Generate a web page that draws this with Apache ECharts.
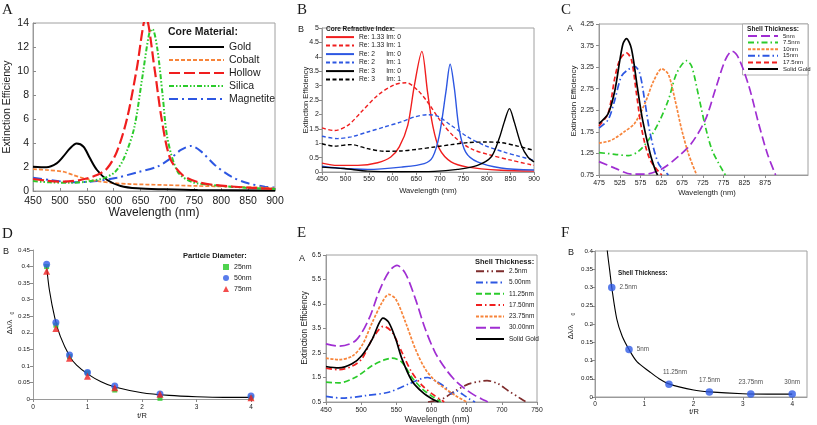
<!DOCTYPE html>
<html><head><meta charset="utf-8">
<script src="https://cdn.jsdelivr.net/npm/echarts@6/dist/echarts.min.js"></script>
<style>html,body{margin:0;padding:0;background:#fff}#c{width:817px;height:425px}</style>
</head><body><div id="c"></div><script>
// ---------- Panel A: core material (wavelength nm, extinction efficiency) ----------
const aGold = [[450,2.03],[475,1.97],[494,2.3],[506,2.86],[519,3.56],[531,3.95],[544,3.69],[556,2.72],[569,1.75],[588,0.92],[613,0.42],[644,0.22],[694,0.14],[756,0.08],[900,0.05]];
const aCobalt = [[450,1.83],[475,1.75],[506,1.61],[525,1.33],[544,1.06],[569,0.83],[600,0.66],[631,0.58],[694,0.5],[756,0.42],[819,0.36],[881,0.28],[900,0.22]];
const aHollow = [[450,1.0],[475,0.86],[506,0.78],[538,0.92],[569,1.33],[588,1.89],[606,3.28],[625,6.06],[643,10.2],[660,14.5],[676,10.2],[689,6.06],[705,2.72],[728,1.33],[756,0.75],[788,0.5],[850,0.28],[900,0.17]];
const aSilica = [[450,0.83],[481,0.72],[519,0.69],[550,0.78],[584,1.11],[603,1.61],[619,2.72],[638,5.22],[653,9.39],[666,13.1],[672,13.5],[681,11.9],[691,8.0],[700,4.39],[719,1.61],[744,0.78],[781,0.5],[844,0.28],[900,0.17]];
const aMagnetite = [[450,1.11],[481,0.92],[525,0.72],[569,0.83],[606,1.11],[644,1.56],[681,2.03],[706,2.72],[725,3.42],[744,3.75],[763,3.28],[788,2.17],[819,1.19],[850,0.64],[881,0.36],[900,0.28]];

// ---------- Panel B: core refractive index ----------
const bRe133Im0 = [[450,0.31],[483,0.23],[526,0.23],[568,0.32],[596,0.52],[614,0.87],[632,1.62],[646,3.0],[662,4.19],[674,2.78],[685,1.62],[699,0.81],[724,0.35],[759,0.17],[830,0.06],[900,0.03]];
const bRe133Im1 = [[450,1.53],[476,1.44],[505,1.62],[533,2.08],[568,2.66],[604,3.03],[629,3.1],[653,2.84],[674,2.43],[703,1.74],[731,1.22],[766,0.81],[809,0.58],[851,0.41],[900,0.23]];
const bRe2Im0 = [[450,0.2],[483,0.14],[547,0.09],[618,0.17],[667,0.29],[685,0.52],[699,1.27],[713,2.78],[722,3.74],[731,2.9],[741,1.5],[755,0.69],[780,0.35],[830,0.14],[900,0.07]];
const bRe2Im1 = [[450,1.24],[483,1.16],[512,1.22],[547,1.39],[582,1.56],[618,1.74],[646,1.91],[674,1.99],[695,1.94],[724,1.62],[759,1.22],[794,0.93],[837,0.69],[865,0.56],[900,0.41]];
const bRe3Im0 = [[450,0.17],[497,0.12],[547,0.03],[618,0.01],[689,0.02],[738,0.09],[780,0.23],[809,0.52],[826,1.16],[837,1.74],[848,2.2],[858,1.74],[873,0.93],[887,0.52],[900,0.35]];
const bRe3Im1 = [[450,0.98],[476,0.9],[512,0.95],[547,0.81],[582,0.72],[618,0.73],[653,0.79],[689,0.87],[724,0.95],[759,1.02],[794,1.04],[830,1.02],[865,0.9],[900,0.75]];

// ---------- Panel C: shell thickness ----------
const c5nm = [[475,1.06],[513,0.91],[553,0.77],[586,0.77],[626,0.89],[666,1.18],[698,1.49],[731,2.03],[755,2.73],[779,3.42],[795,3.62],[811,3.46],[836,2.8],[859,1.95],[880,1.25],[900,0.75]];
const c7_5nm = [[475,1.27],[513,1.23],[545,1.2],[569,1.29],[594,1.56],[618,1.95],[642,2.49],[662,3.11],[686,3.4],[698,3.27],[715,2.57],[731,1.87],[747,1.33],[763,1.02],[779,0.75]];
const c10nm = [[475,1.49],[497,1.53],[513,1.6],[537,1.76],[561,1.95],[586,2.42],[606,2.92],[626,3.21],[642,3.08],[658,2.49],[674,1.8],[690,1.25],[710,0.75]];
const c15nm = [[475,1.84],[497,2.03],[513,2.49],[529,3.04],[545,3.19],[561,3.27],[573,3.11],[586,2.41],[598,1.72],[618,1.02],[642,0.75]];
const c17_5nm = [[475,1.89],[497,2.18],[513,3.0],[525,3.42],[541,3.58],[553,3.42],[565,2.65],[578,1.8],[598,1.1],[626,0.75]];
const cGold = [[475,1.94],[497,2.17],[513,2.7],[525,3.4],[533,3.8],[541,3.91],[553,3.68],[567,2.8],[580,2.02],[598,1.25],[611,0.85],[616,0.75]];
const cXTicks = [475,525,575,625,675,725,775,825,875];
const cYTicks = [0.75,1.25,1.75,2.25,2.75,3.25,3.75,4.25];

// ---------- Panel D: particle diameter (t/R vs shift) ----------
const dTR = [0.25,0.42,0.67,1.0,1.5,2.33,4.0];
const d25nm = [0.40,0.223,0.128,0.079,0.027,0.002,0.004];
const d50nm = [0.407,0.231,0.133,0.08,0.039,0.015,0.009];
const d75nm = [0.386,0.213,0.123,0.069,0.034,0.014,0.004];
const dFit = [[0.25,0.40],[0.3,0.33],[0.4,0.245],[0.5,0.19],[0.67,0.13],[0.8,0.102],[1.0,0.076],[1.25,0.052],[1.5,0.036],[2.0,0.019],[2.5,0.011],[3.0,0.007],[3.5,0.005],[4.0,0.005]];

// ---------- Panel E: shell thickness ----------
const e2_5nm = [[595,0.5],[615,0.62],[634,0.96],[653,1.24],[667,1.33],[679,1.37],[695,1.24],[709,0.96],[724,0.69],[733,0.53],[736,0.5]];
const e5nm = [[450,0.73],[473,0.66],[506,0.76],[539,0.9],[568,1.24],[587,1.47],[594,1.5],[605,1.37],[620,1.1],[629,0.83],[636,0.95],[645,0.8],[655,0.6],[662,0.5]];
const e11_25nm = [[450,1.31],[468,1.28],[492,1.51],[516,1.99],[534,2.23],[544,2.29],[558,2.12],[572,1.51],[587,1.03],[601,0.73],[610,0.56],[613,0.5]];
const e17_5nm = [[450,1.88],[468,1.82],[487,1.96],[501,2.26],[516,3.08],[532,3.59],[544,3.35],[558,2.53],[572,1.71],[587,1.17],[601,0.83],[615,0.56],[618,0.5]];
const e23_75nm = [[450,2.29],[468,2.23],[487,2.37],[501,2.8],[516,3.76],[530,4.58],[539,4.89],[549,4.71],[563,3.76],[577,2.67],[591,1.85],[605,1.37],[620,1.03],[634,0.76],[648,0.53],[650,0.5]];
const e30nm = [[450,2.87],[468,2.78],[492,3.0],[511,3.89],[525,4.98],[539,5.8],[551,6.08],[563,5.74],[577,4.72],[591,3.49],[605,2.53],[620,1.85],[634,1.37],[648,1.03],[662,0.76],[676,0.56],[680,0.5]];
const eGold = [[450,1.95],[468,1.89],[487,2.06],[501,2.4],[516,3.08],[525,3.69],[531,3.92],[539,3.76],[549,3.08],[558,2.26],[572,1.37],[587,0.9],[601,0.62],[610,0.5]];
const eYTicks = [0.5,1.5,2.5,3.5,4.5,5.5,6.5];

// ---------- Panel F: shell thickness (t/R vs shift) ----------
const fTR = [0.34,0.69,1.5,2.32,3.16,4.0];
const fShift = [0.30,0.13,0.035,0.014,0.008,0.008];
const fLabels = ['2.5nm','5nm','11.25nm','17.5nm','23.75nm','30nm'];
const fFit = [[0.24,0.43],[0.25,0.40],[0.3,0.345],[0.34,0.30],[0.44,0.215],[0.55,0.167],[0.69,0.13],[0.85,0.097],[1.1,0.07],[1.3,0.05],[1.5,0.036],[2.0,0.019],[2.32,0.014],[3.0,0.009],[3.5,0.008],[4.0,0.008]];
const fXTicks = [0,1,2,3,4];

// ---------- styling ----------
const FONT = "'Liberation Sans', Arial, Helvetica, sans-serif";
const SERIF = "'Liberation Serif', 'Times New Roman', serif";
const TXT = '#1a1a1a';
const C_BLACK='#000000', C_ORANGE='#f7843a', C_RED='#f01e1e', C_GREEN='#2bcb2b', C_BLUE='#2d57e2', C_PURPLE='#a02ed2', C_BROWN='#7e2c2c';

const grids = [
  {left:33, top:23, width:242, height:168, show:true},
  {left:322, top:28, width:212, height:144, show:true},
  {left:599, top:24, width:209, height:151, show:true},
  {left:33, top:250, width:218, height:149, show:false},
  {left:326, top:255, width:211, height:147, show:true},
  {left:595, top:251, width:212, height:146, show:true}
].map(g => Object.assign(g, {borderColor:'#a0a0a0', borderWidth:1, backgroundColor:'transparent', containLabel:false, outerBoundsMode:'none'}));

function mkAxis(gi, min, max, o) {
  const ax = {type:'value', gridIndex:gi, min:min, max:max, scale:false,
    axisLine:{show:true, onZero:false, lineStyle:{color:'#9a9a9a', width:1}},
    axisTick:{show:true, inside:!!o.inside, length:3, lineStyle:{color:'#8a8a8a', width:1}},
    splitLine:{show:false},
    axisLabel:{fontSize:o.fs, fontFamily:FONT, color:TXT, margin:o.margin, hideOverlap:false, showMinLabel:true, showMaxLabel:true}};
  if (o.interval != null) ax.interval = o.interval;
  if (o.ticks) { ax.axisLabel.customValues = o.ticks; ax.axisTick.customValues = o.ticks; }
  return ax;
}

const xAxes = [
  mkAxis(0, 450, 900, {interval:50, fs:10.5, margin:5, inside:true}),
  mkAxis(1, 450, 900, {interval:50, fs:7, margin:4}),
  mkAxis(2, 475, 978, {ticks:cXTicks, fs:7, margin:4.5}),
  mkAxis(3, 0, 4, {interval:1, fs:6.5, margin:5}),
  mkAxis(4, 450, 750, {interval:50, fs:6.8, margin:5}),
  mkAxis(5, 0, 4.3, {ticks:fXTicks, fs:6.5, margin:4})
];
const yAxes = [
  mkAxis(0, 0, 14, {interval:2, fs:10.5, margin:4, inside:true}),
  mkAxis(1, 0, 5, {interval:0.5, fs:7, margin:3}),
  mkAxis(2, 0.75, 4.25, {ticks:cYTicks, fs:7, margin:5}),
  mkAxis(3, 0, 0.45, {interval:0.05, fs:6.2, margin:3}),
  mkAxis(4, 0.5, 6.5, {ticks:eYTicks, fs:6.5, margin:5}),
  mkAxis(5, 0, 0.4, {interval:0.05, fs:6.2, margin:2})
];

function line(name, data, gi, color, width, dash, z) {
  return {type:'line', name:name, xAxisIndex:gi, yAxisIndex:gi, data:data, symbol:'none', showSymbol:false,
    smooth:0.3, clip:true, silent:true, z:z||2,
    lineStyle:{color:color, width:width, type:dash||'solid', cap:'butt'}, itemStyle:{color:color}};
}
function pairs(xs, ys) { return xs.map((x,i) => [x, ys[i]]); }

const series = [
  // A
  line('Magnetite', aMagnetite, 0, C_BLUE, 2, [9,4,2,4]),
  line('Cobalt', aCobalt, 0, C_ORANGE, 1.7, [4,2]),
  line('Gold', aGold, 0, C_BLACK, 2),
  line('Silica', aSilica, 0, C_GREEN, 2, [5,2,1.5,2,1.5,2]),
  line('Hollow', aHollow, 0, C_RED, 2.2, [11,4]),
  // B
  line('Re: 1.33 Im: 0', bRe133Im0, 1, C_RED, 1.4),
  line('Re: 1.33 Im: 1', bRe133Im1, 1, C_RED, 1.4, [4,2.5]),
  line('Re: 2      Im: 0', bRe2Im0, 1, C_BLUE, 1.4),
  line('Re: 2      Im: 1', bRe2Im1, 1, C_BLUE, 1.4, [4,2.5]),
  line('Re: 3      Im: 0', bRe3Im0, 1, C_BLACK, 1.4),
  line('Re: 3      Im: 1', bRe3Im1, 1, C_BLACK, 1.4, [4,2.5]),
  // C
  line('5nm', c5nm, 2, C_PURPLE, 1.7, [9,4]),
  line('7.5nm', c7_5nm, 2, C_GREEN, 1.7, [6,3,1.5,3]),
  line('10nm', c10nm, 2, C_ORANGE, 1.7, [3,1.5]),
  line('15nm', c15nm, 2, C_BLUE, 1.7, [7,3,1.5,3]),
  line('17.5nm', c17_5nm, 2, C_RED, 1.7, [5,3]),
  line('Solid Gold', cGold, 2, C_BLACK, 1.7),
  // D
  line('fitD', dFit, 3, C_BLACK, 1.1),
  {type:'scatter', name:'25nm', xAxisIndex:3, yAxisIndex:3, data:pairs(dTR, d25nm), symbol:'rect', symbolSize:5, itemStyle:{color:'#22c822'}, z:3, silent:true},
  {type:'scatter', name:'50nm', xAxisIndex:3, yAxisIndex:3, data:pairs(dTR, d50nm), symbol:'circle', symbolSize:7, itemStyle:{color:'#2f5be6'}, z:4, silent:true},
  {type:'scatter', name:'75nm', xAxisIndex:3, yAxisIndex:3, data:pairs(dTR, d75nm), symbol:'triangle', symbolSize:7, itemStyle:{color:'#f02020'}, z:5, silent:true},
  // E
  line('2.5nm', e2_5nm, 4, C_BROWN, 1.7, [8,3,1.5,3,1.5,3]),
  line('5.00nm', e5nm, 4, C_BLUE, 1.7, [7,3,1.5,3]),
  line('11.25nm', e11_25nm, 4, C_GREEN, 1.7, [6,3]),
  line('17.50nm', e17_5nm, 4, C_RED, 1.7, [6,3,1.5,3]),
  line('23.75nm', e23_75nm, 4, C_ORANGE, 1.7, [3,1.5]),
  line('30.00nm', e30nm, 4, C_PURPLE, 1.7, [10,4]),
  line('Solid Gold E', eGold, 4, C_BLACK, 1.7),
  // F
  line('fitF', fFit, 5, C_BLACK, 1.1),
  {type:'scatter', name:'fPoints', xAxisIndex:5, yAxisIndex:5, symbol:'circle', symbolSize:7.5, itemStyle:{color:'#2f5be6'}, z:4, silent:true,
   data: fTR.map((x,i) => ({value:[x, fShift[i]], label:{show:true, formatter:fLabels[i], position: i < 2 ? 'right' : 'top', distance: i < 2 ? 4 : 5,
      offset: i === 2 ? [6,0] : [0,0], fontSize:6.3, fontFamily:FONT, color:TXT}}))}
];

function legend(names, left, top, iw, ih, gap, fs, hideSymbol) {
  const lg = {data:names, orient:'vertical', left:left, top:top, itemWidth:iw, itemHeight:ih, itemGap:gap, padding:0,
    selectedMode:false, textStyle:{fontSize:fs, fontFamily:FONT, color:TXT}};
  if (hideSymbol) lg.itemStyle = {opacity:0};
  return lg;
}
const legends = [
  legend(['Gold','Cobalt','Hollow','Silica','Magnetite'], 168, 41.5, 55, 11, 2, 10.5, true),
  legend(['Re: 1.33 Im: 0','Re: 1.33 Im: 1','Re: 2      Im: 0','Re: 2      Im: 1','Re: 3      Im: 0','Re: 3      Im: 1'], 325, 33.6, 28, 6, 1.5, 6.7, true),
  legend(['5nm','7.5nm','10nm','15nm','17.5nm','Solid Gold'], 747, 33, 30, 5, 0.6, 6, true),
  legend(['25nm','50nm','75nm'], 223, 263.5, 6, 6, 4, 7, false),
  legend(['2.5nm','5.00nm','11.25nm','17.50nm','23.75nm','30.00nm','Solid Gold'], 475, 267.7, 28, 6, 4.3, 6.5, true)
];

function txt(x, y, text, size, o) {
  o = o || {};
  const al = o.align || 'left';
  return {type:'text', x:x, y:y, rotation:o.rot || 0, silent:true, z:100,
    style:{text:text, font:(o.bold ? 'bold ' : '') + size + 'px ' + (o.family || FONT), fill:o.color || TXT,
      align:al, verticalAlign:'middle', textAlign:al, textVerticalAlign:'middle'}};
}
const R = Math.PI / 2;
const graphics = [
  // panel letters
  txt(2, 10, 'A', 15, {family:SERIF}), txt(297, 10, 'B', 15, {family:SERIF}), txt(561, 10, 'C', 15, {family:SERIF}),
  txt(2, 234, 'D', 15, {family:SERIF}), txt(297, 233.5, 'E', 15, {family:SERIF}), txt(561, 233.5, 'F', 15, {family:SERIF}),
  // inner sub letters
  txt(298, 30, 'B', 9), txt(567, 29, 'A', 9), txt(3, 251.5, 'B', 9), txt(299, 259, 'A', 9), txt(568, 253, 'B', 9),
  // legend titles
  txt(168, 32, 'Core Material:', 10.5, {bold:true}),
  txt(326, 29, 'Core Refractive Index:', 6.5, {bold:true}),
  txt(747, 29.3, 'Shell Thickness:', 6.6, {bold:true}),
  txt(183, 256, 'Particle Diameter:', 7.5, {bold:true}),
  txt(475, 262, 'Shell Thickness:', 7.5, {bold:true}),
  txt(618, 273, 'Shell Thickness:', 6.3, {bold:true}),
  // axis titles
  txt(154, 213, 'Wavelength (nm)', 12, {align:'center'}),
  txt(7, 107, 'Extinction Efficiency', 10.5, {align:'center', rot:R}),
  txt(428, 191, 'Wavelength (nm)', 7.6, {align:'center'}),
  txt(305.5, 100, 'Extinction Efficiency', 7.5, {align:'center', rot:R}),
  txt(707, 193, 'Wavelength (nm)', 7.6, {align:'center'}),
  txt(574, 101, 'Extinction Efficiency', 8, {align:'center', rot:R}),
  txt(142, 416, 't/R', 7.5, {align:'center'}),
  txt(9.5, 327, 'Δλ/λ', 7.5, {align:'center', rot:R}),
  txt(12.5, 313, '0', 5, {align:'center', rot:R}),
  txt(437, 420, 'Wavelength (nm)', 8.6, {align:'center'}),
  txt(305, 328, 'Extinction Efficiency', 8.3, {align:'center', rot:R}),
  txt(694, 412, 't/R', 7.5, {align:'center'}),
  txt(571, 332, 'Δλ/λ', 7.5, {align:'center', rot:R}),
  txt(574, 314, '0', 5, {align:'center', rot:R}),
  // legend box in C
  {type:'rect', shape:{x:742.5, y:24, width:65.5, height:51}, silent:true, z:1,
   style:{fill:'#ffffff', stroke:'#a0a0a0', lineWidth:0.8}}
];

const chart = echarts.init(document.getElementById('c'), null, {renderer:'canvas'});
chart.setOption({
  backgroundColor:'#ffffff', animation:false,
  grid:grids, xAxis:xAxes, yAxis:yAxes, legend:legends, series:series, graphic:graphics
});
</script></body></html>
